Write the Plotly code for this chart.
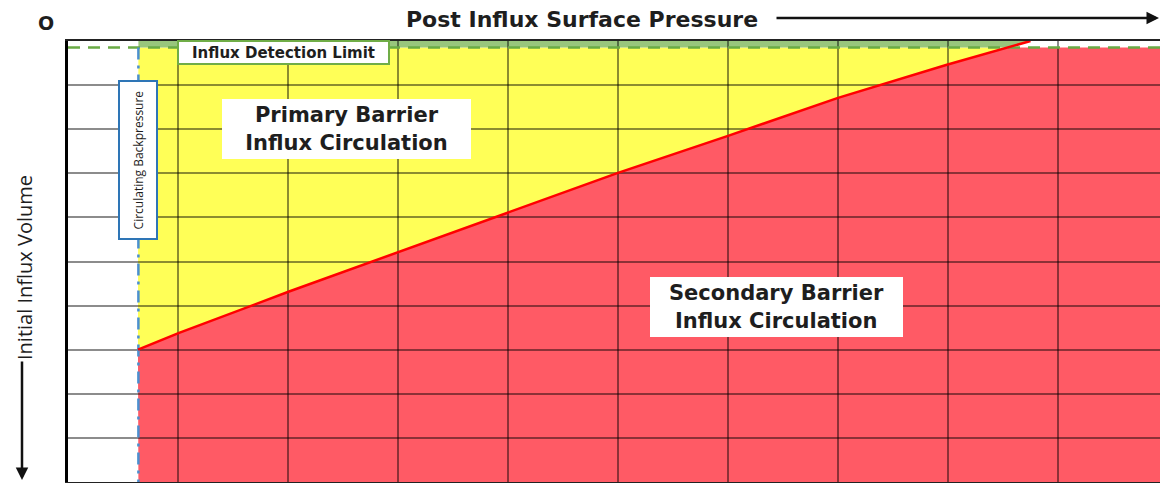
import numpy as np
import plotly.graph_objects as go

# ---- data (grid units: x = pressure columns, y = volume rows, 0 at top) ----
boundary_x = [0.636, 1.01, 2.01, 3.01, 4.0, 5.0, 6.0, 7.0, 7.99, 8.75]
boundary_y = [7.0, 6.62, 5.68, 4.78, 3.88, 2.99, 2.15, 1.29, 0.54, 0.0]
backpressure_x = 0.64
detection_limit_y = 0.15
x_max = 10.0
y_max = 10.0

W, H = 1160, 483
ML, MT, MB, MR = 68, 41, 1, 0
plot_w = W - ML - MR
plot_h = H - MT - MB
x_range_max = plot_w / 110.0

bx = np.array(boundary_x)
by = np.array(boundary_y)
# where boundary crosses detection limit
x_det = float(np.interp(detection_limit_y, by[::-1], bx[::-1]))
keep = by >= detection_limit_y


def path(xs, ys):
    return "M " + " L ".join(f"{a},{b}" for a, b in zip(xs, ys)) + " Z"


yellow_x = [backpressure_x] + list(bx[keep]) + [x_det]
yellow_y = [detection_limit_y] + list(by[keep]) + [detection_limit_y]
green_x = [backpressure_x, backpressure_x, x_det, bx[-1]]
green_y = [0, detection_limit_y, detection_limit_y, by[-1]]
red_x = list(bx[keep]) + [x_det, x_max, x_max, backpressure_x]
red_y = list(by[keep]) + [detection_limit_y, detection_limit_y, y_max, y_max]

fig = go.Figure()

shapes = [
    dict(type="path", path=path(yellow_x, yellow_y), xref="x", yref="y",
         fillcolor="#ffff57", line=dict(width=0), layer="below"),
    dict(type="path", path=path(green_x, green_y), xref="x", yref="y",
         fillcolor="#98c67c", line=dict(width=0), layer="below"),
    dict(type="path", path=path(red_x, red_y), xref="x", yref="y",
         fillcolor="#ff5a65", line=dict(width=0), layer="below"),
]

# detection limit dashed line
fig.add_trace(go.Scatter(x=[0, x_max], y=[detection_limit_y, detection_limit_y],
                         mode="lines", line=dict(color="#6aab45", width=2.5, dash="12px,8px"),
                         hoverinfo="skip", showlegend=False))
# circulating backpressure dash-dot line
fig.add_trace(go.Scatter(x=[backpressure_x, backpressure_x], y=[detection_limit_y, y_max],
                         mode="lines", line=dict(color="#4a8fd0", width=2.5, dash="12px,6px,3px,6px"),
                         hoverinfo="skip", showlegend=False))
# barrier boundary
fig.add_trace(go.Scatter(x=boundary_x, y=boundary_y, mode="lines",
                         line=dict(color="#ff0000", width=2.5),
                         hoverinfo="skip", showlegend=False))

grid = "rgba(0,0,0,0.45)"
fig.update_xaxes(range=[0, x_range_max], tick0=0, dtick=1, showgrid=True, gridcolor=grid,
                 gridwidth=1.5, showticklabels=False, ticks="", zeroline=False,
                 showline=True, linecolor="#222222", linewidth=2, mirror=True, fixedrange=True)
fig.update_yaxes(range=[y_max, 0], tick0=0, dtick=1, showgrid=True, gridcolor=grid,
                 gridwidth=1.5, showticklabels=False, ticks="", zeroline=False,
                 showline=True, linecolor="#000000", linewidth=3, mirror=False, fixedrange=True)


def py(p):
    return (H - MB - p) / plot_h


def px(p):
    return (p - ML) / plot_w


dark = "#1e1e1e"
wide = "DejaVu Sans, sans-serif"
plain = "Open Sans, sans-serif"
C = dict(xanchor="center", yanchor="middle")

annotations = [
    dict(text="Post Influx Surface Pressure", xref="paper", yref="paper", x=px(582), y=py(19),
         showarrow=False, font=dict(size=22, weight=700, family=wide, color=dark), **C),
    dict(text="O", xref="paper", yref="paper", x=px(46), y=py(23), showarrow=False,
         font=dict(size=19, weight=700, family=wide, color=dark), **C),
    dict(text="", xref="paper", yref="paper", x=px(1164), y=py(18), ax=-389, ay=0,
         showarrow=True, arrowhead=2, arrowsize=1, arrowwidth=2.5, arrowcolor="#111111"),
    dict(text="Initial Influx Volume", xref="paper", yref="paper", x=px(24), y=py(268),
         textangle=-90, showarrow=False, font=dict(size=20, weight=500, family=plain, color=dark), **C),
    dict(text="", xref="paper", yref="paper", x=px(22), y=py(480), ax=0, ay=-120,
         showarrow=True, arrowhead=2, arrowsize=1, arrowwidth=2.5, arrowcolor="#111111"),
    dict(text="Influx Detection Limit", xref="x", yref="y", x=(283.5 - ML) / 110, y=(52.5 - MT) / 44.1,
         showarrow=False, width=209, height=21, borderpad=0, bgcolor="white",
         bordercolor="#70ad47", borderwidth=2,
         font=dict(size=15, weight=700, family=wide, color=dark), **C),
    dict(text="Circulating Backpressure", xref="x", yref="y", x=(138 - ML) / 110, y=(160 - MT) / 44.1,
         textangle=-90, showarrow=False, width=156, height=36, borderpad=0, bgcolor="white",
         bordercolor="#2e75b6", borderwidth=2, font=dict(size=12, family=plain, color=dark), **C),
    dict(text="Primary Barrier<br>Influx Circulation", xref="x", yref="y",
         x=(346.5 - ML) / 110, y=(129 - MT) / 44.1, showarrow=False, width=249, height=60,
         borderpad=0, bgcolor="white", borderwidth=0,
         font=dict(size=21, weight=700, family=wide, color=dark), **C),
    dict(text="Secondary Barrier<br>Influx Circulation", xref="x", yref="y",
         x=(776.5 - ML) / 110, y=(307 - MT) / 44.1, showarrow=False, width=253, height=60,
         borderpad=0, bgcolor="white", borderwidth=0,
         font=dict(size=21, weight=700, family=wide, color=dark), **C),
]

fig.update_layout(width=W, height=H, margin=dict(l=ML, r=MR, t=MT, b=MB, pad=0),
                  paper_bgcolor="white", plot_bgcolor="white", shapes=shapes,
                  annotations=annotations, showlegend=False)

fig.write_html("out.html", config={"displayModeBar": False},
               post_script="document.body.style.margin='0px';document.body.style.padding='0px';")
